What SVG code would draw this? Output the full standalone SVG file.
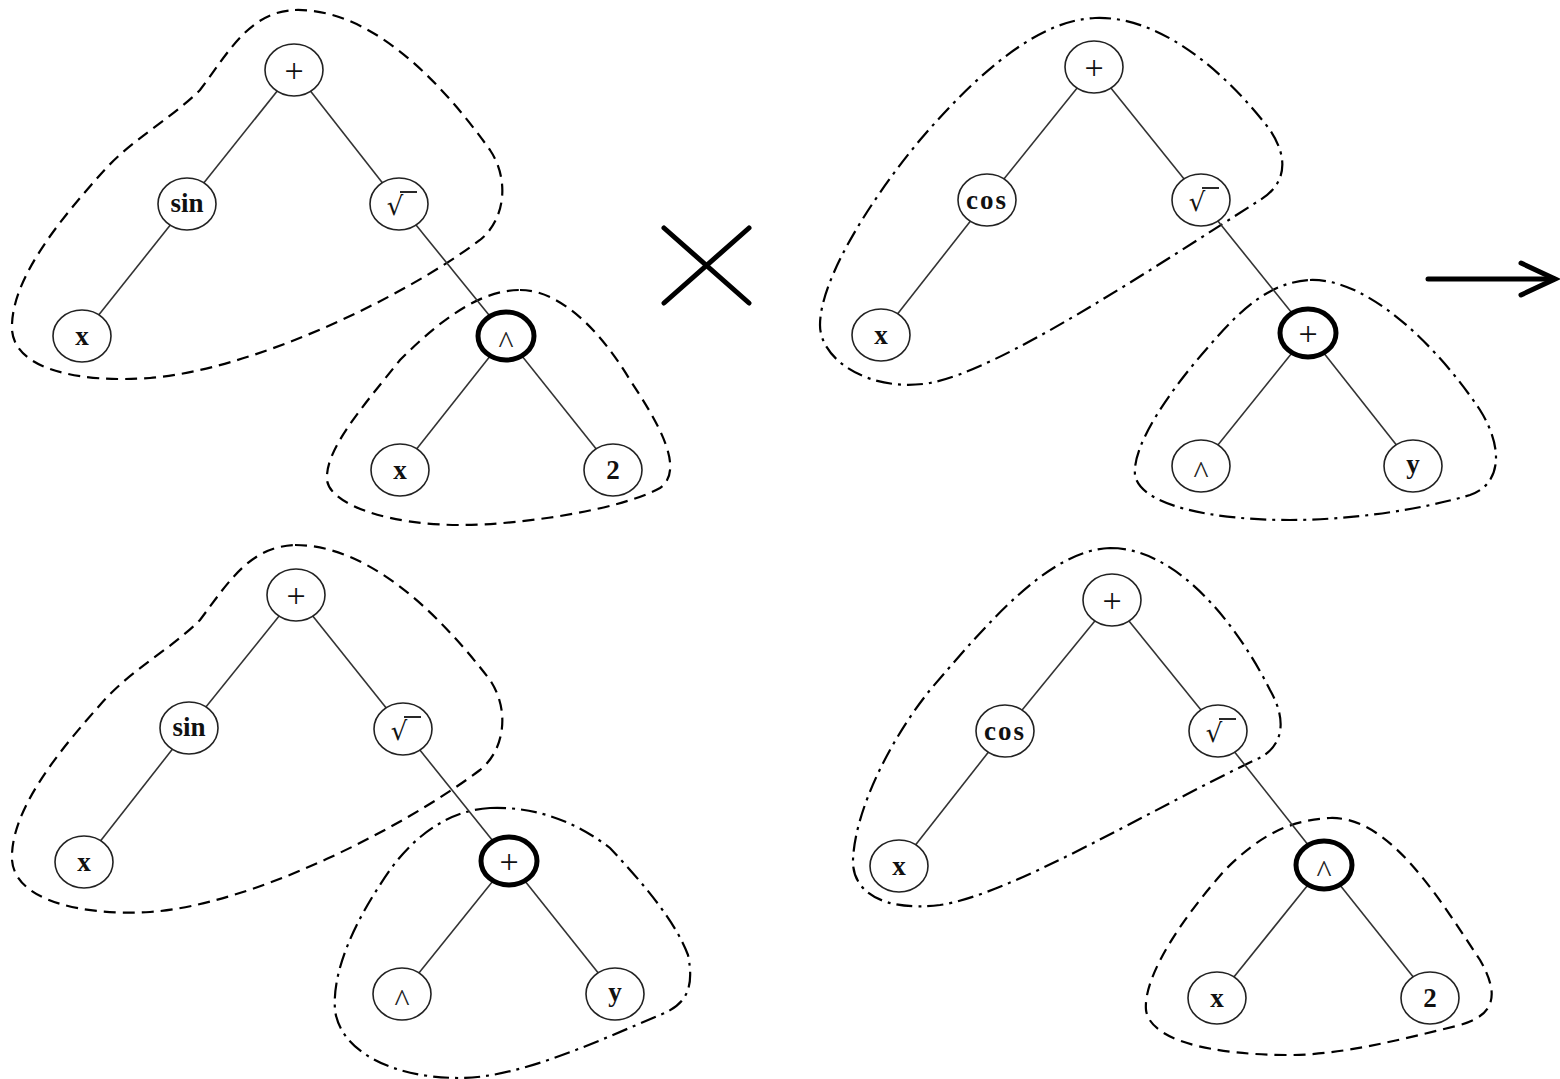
<svg xmlns="http://www.w3.org/2000/svg" width="1560" height="1079" viewBox="0 0 1560 1079">
<style>
.bg{fill:#fff}
.dash{fill:none;stroke:#000;stroke-width:2.2;stroke-dasharray:12 7}
.dd{fill:none;stroke:#000;stroke-width:2.2;stroke-dasharray:16 6 3 6}
.edge{stroke:#333;stroke-width:1.6}
.n{fill:#fff;stroke:#222;stroke-width:1.6}
.nb{fill:#fff;stroke:#000;stroke-width:5}
.t{font-family:"Liberation Serif",serif;font-size:27px;font-weight:bold;text-anchor:middle;fill:#111}
.op{font-family:"Liberation Serif",serif;font-size:34px;text-anchor:middle;fill:#111}
.car{font-family:"Liberation Serif",serif;font-size:32px;text-anchor:middle;fill:#222}
.sq{font-family:"DejaVu Sans",sans-serif;font-size:26px;text-anchor:middle;fill:#111}
.vin{stroke:#111;stroke-width:1.8}
.big{stroke:#000;stroke-width:5;fill:none;stroke-linecap:round}
</style>
<rect class="bg" x="0" y="0" width="1560" height="1079"/>
<g id="outlines">
<path class="dash" d="M 295,10 C 370,8 440,80 490,150 C 510,180 505,220 480,240 C 400,300 250,370 150,378 C 80,383 15,370 12,330 C 10,280 60,220 100,175 C 130,140 170,120 200,90 C 230,50 250,12 295,10 Z"/>
<path class="dash" d="M 520,290 C 560,290 600,330 630,380 C 660,425 685,470 660,488 C 620,510 520,525 460,525 C 390,525 330,505 327,480 C 325,450 360,410 400,360 C 440,320 480,290 520,290 Z"/>
<path class="dd" d="M 1095,18 C 1170,15 1240,90 1270,130 C 1290,160 1285,185 1260,200 C 1150,270 1000,370 930,383 C 870,393 820,360 820,325 C 820,280 870,200 920,140 C 980,70 1040,20 1095,18 Z"/>
<path class="dd" d="M 1310,280 C 1370,278 1440,350 1480,410 C 1505,450 1500,485 1470,495 C 1420,510 1350,520 1290,520 C 1210,520 1140,505 1135,475 C 1132,445 1170,390 1210,345 C 1240,310 1270,282 1310,280 Z"/>
<path class="dash" d="M 295,545 C 370,545 440,615 490,680 C 510,710 505,750 480,770 C 400,830 250,905 150,912 C 80,916 15,900 12,860 C 10,810 60,750 100,705 C 130,670 170,650 200,620 C 230,580 250,547 295,545 Z"/>
<path class="dd" d="M 490,808 C 540,806 580,825 610,848 C 640,880 675,920 688,955 C 695,990 685,1005 660,1015 C 600,1040 520,1078 460,1078 C 390,1078 340,1050 335,1010 C 332,970 355,920 390,870 C 415,835 450,810 490,808 Z"/>
<path class="dd" d="M 1110,548 C 1180,548 1240,630 1270,690 C 1290,725 1280,750 1255,760 C 1150,810 1010,895 940,905 C 880,912 852,890 853,860 C 855,810 890,740 930,690 C 990,620 1050,550 1110,548 Z"/>
<path class="dash" d="M 1330,818 C 1390,816 1440,900 1480,960 C 1500,995 1495,1015 1460,1025 C 1400,1040 1340,1055 1290,1055 C 1210,1055 1150,1040 1146,1010 C 1143,975 1185,915 1225,870 C 1260,835 1290,820 1330,818 Z"/>
</g>
<g id="connectors">
<line class="edge" x1="294" y1="70" x2="187" y2="204"/>
<line class="edge" x1="294" y1="70" x2="399" y2="204"/>
<line class="edge" x1="187" y1="204" x2="82" y2="336"/>
<line class="edge" x1="399" y1="204" x2="506" y2="336"/>
<line class="edge" x1="506" y1="336" x2="400" y2="470"/>
<line class="edge" x1="506" y1="336" x2="613" y2="470"/>
<line class="edge" x1="1094" y1="67" x2="987" y2="200"/>
<line class="edge" x1="1094" y1="67" x2="1201" y2="200"/>
<line class="edge" x1="987" y1="200" x2="881" y2="335"/>
<line class="edge" x1="1201" y1="200" x2="1308" y2="333"/>
<line class="edge" x1="1308" y1="333" x2="1201" y2="466"/>
<line class="edge" x1="1308" y1="333" x2="1413" y2="466"/>
<line class="edge" x1="296" y1="595" x2="189" y2="728"/>
<line class="edge" x1="296" y1="595" x2="403" y2="729"/>
<line class="edge" x1="189" y1="728" x2="84" y2="862"/>
<line class="edge" x1="403" y1="729" x2="509" y2="861"/>
<line class="edge" x1="509" y1="861" x2="402" y2="994"/>
<line class="edge" x1="509" y1="861" x2="615" y2="994"/>
<line class="edge" x1="1112" y1="600" x2="1005" y2="731"/>
<line class="edge" x1="1112" y1="600" x2="1218" y2="731"/>
<line class="edge" x1="1005" y1="731" x2="899" y2="866"/>
<line class="edge" x1="1218" y1="731" x2="1324" y2="865"/>
<line class="edge" x1="1324" y1="865" x2="1217" y2="998"/>
<line class="edge" x1="1324" y1="865" x2="1430" y2="998"/>
</g>
<!-- top-left tree -->
<g id="tl-plus"><ellipse class="n" cx="294" cy="70" rx="29" ry="26"/><text class="op" x="294" y="82">+</text></g>
<g id="tl-sin"><ellipse class="n" cx="187" cy="204" rx="29" ry="26"/><text class="t" x="187" y="212">sin</text></g>
<g id="tl-sqrt"><ellipse class="n" cx="399" cy="204" rx="29" ry="26"/><text class="sq" x="395" y="215">√</text><line class="vin" x1="400" y1="192" x2="417" y2="192"/></g>
<g id="tl-x1"><ellipse class="n" cx="82" cy="336" rx="29" ry="26"/><text class="t" x="82" y="345">x</text></g>
<g id="tl-pow"><ellipse class="nb" cx="506" cy="336" rx="28" ry="24"/><text class="car" x="506" y="353">^</text></g>
<g id="tl-x2"><ellipse class="n" cx="400" cy="470" rx="29" ry="26"/><text class="t" x="400" y="479">x</text></g>
<g id="tl-2"><ellipse class="n" cx="613" cy="470" rx="29" ry="26"/><text class="t" x="613" y="479">2</text></g>
<!-- top-right tree -->
<g id="tr-plus"><ellipse class="n" cx="1094" cy="67" rx="29" ry="26"/><text class="op" x="1094" y="79">+</text></g>
<g id="tr-cos"><ellipse class="n" cx="987" cy="200" rx="29" ry="26"/><text class="t" x="987" y="209" letter-spacing="2">cos</text></g>
<g id="tr-sqrt"><ellipse class="n" cx="1201" cy="200" rx="29" ry="26"/><text class="sq" x="1197" y="211">√</text><line class="vin" x1="1202" y1="188" x2="1219" y2="188"/></g>
<g id="tr-x"><ellipse class="n" cx="881" cy="335" rx="29" ry="26"/><text class="t" x="881" y="344">x</text></g>
<g id="tr-plus2"><ellipse class="nb" cx="1308" cy="333" rx="28" ry="24"/><text class="op" x="1308" y="345">+</text></g>
<g id="tr-pow"><ellipse class="n" cx="1201" cy="466" rx="29" ry="26"/><text class="car" x="1201" y="483">^</text></g>
<g id="tr-y"><ellipse class="n" cx="1413" cy="466" rx="29" ry="26"/><text class="t" x="1413" y="473">y</text></g>
<!-- bottom-left tree -->
<g id="bl-plus"><ellipse class="n" cx="296" cy="595" rx="29" ry="26"/><text class="op" x="296" y="607">+</text></g>
<g id="bl-sin"><ellipse class="n" cx="189" cy="728" rx="29" ry="26"/><text class="t" x="189" y="736">sin</text></g>
<g id="bl-sqrt"><ellipse class="n" cx="403" cy="729" rx="29" ry="26"/><text class="sq" x="399" y="740">√</text><line class="vin" x1="404" y1="717" x2="421" y2="717"/></g>
<g id="bl-x"><ellipse class="n" cx="84" cy="862" rx="29" ry="26"/><text class="t" x="84" y="871">x</text></g>
<g id="bl-plus2"><ellipse class="nb" cx="509" cy="861" rx="28" ry="24"/><text class="op" x="509" y="873">+</text></g>
<g id="bl-pow"><ellipse class="n" cx="402" cy="994" rx="29" ry="26"/><text class="car" x="402" y="1011">^</text></g>
<g id="bl-y"><ellipse class="n" cx="615" cy="994" rx="29" ry="26"/><text class="t" x="615" y="1001">y</text></g>
<!-- bottom-right tree -->
<g id="br-plus"><ellipse class="n" cx="1112" cy="600" rx="29" ry="26"/><text class="op" x="1112" y="612">+</text></g>
<g id="br-cos"><ellipse class="n" cx="1005" cy="731" rx="29" ry="26"/><text class="t" x="1005" y="740" letter-spacing="2">cos</text></g>
<g id="br-sqrt"><ellipse class="n" cx="1218" cy="731" rx="29" ry="26"/><text class="sq" x="1214" y="742">√</text><line class="vin" x1="1219" y1="719" x2="1236" y2="719"/></g>
<g id="br-x1"><ellipse class="n" cx="899" cy="866" rx="29" ry="26"/><text class="t" x="899" y="875">x</text></g>
<g id="br-pow"><ellipse class="nb" cx="1324" cy="865" rx="28" ry="24"/><text class="car" x="1324" y="882">^</text></g>
<g id="br-x2"><ellipse class="n" cx="1217" cy="998" rx="29" ry="26"/><text class="t" x="1217" y="1007">x</text></g>
<g id="br-2"><ellipse class="n" cx="1430" cy="998" rx="29" ry="26"/><text class="t" x="1430" y="1007">2</text></g>
<g id="cross">
<line class="big" x1="664" y1="228" x2="749" y2="303"/>
<line class="big" x1="749" y1="228" x2="664" y2="303"/>
</g>
<g id="arrow">
<line class="big" x1="1428" y1="279" x2="1553" y2="279"/>
<polyline class="big" points="1521,263 1555,279 1521,295"/>
</g>
</svg>
